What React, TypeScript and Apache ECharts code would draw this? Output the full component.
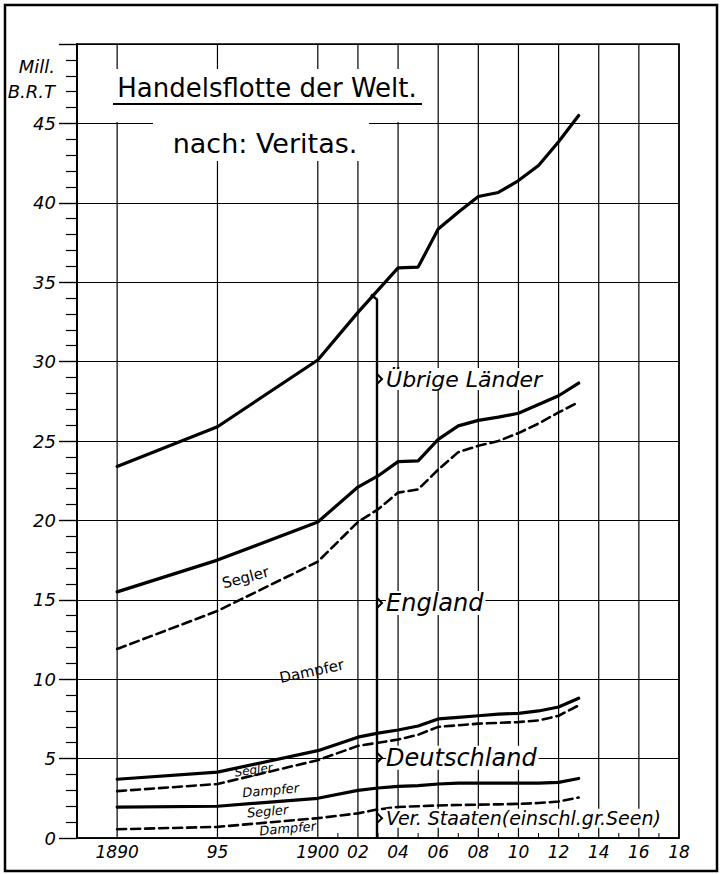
import React, { useEffect, useRef } from "react";
import * as echarts from "echarts";

// ---- data (Mill. B.R.T., cumulative lines as drawn) ----
const years = [1890, 1895, 1900, 1902, 1903, 1904, 1905, 1906, 1907, 1908, 1909, 1910, 1911, 1912, 1913];
const worldTotal = [23.4, 25.9, 30.1, 33.1, 34.5, 35.9, 35.95, 38.35, 39.4, 40.4, 40.65, 41.4, 42.35, 43.85, 45.5];
const englandTotal = [15.5, 17.5, 19.9, 22.1, 22.8, 23.7, 23.75, 25.1, 25.95, 26.3, 26.5, 26.75, 27.3, 27.85, 28.65];
const englandSteam = [11.9, 14.3, 17.4, 19.9, 20.7, 21.75, 21.95, 23.2, 24.3, 24.7, 25.0, 25.5, 26.1, 26.8, 27.45];
const germanyTotal = [3.7, 4.15, 5.5, 6.35, 6.6, 6.8, 7.05, 7.5, 7.6, 7.7, 7.8, 7.85, 8.0, 8.25, 8.8];
const germanySteam = [2.95, 3.4, 4.9, 5.8, 6.0, 6.2, 6.5, 7.0, 7.1, 7.2, 7.25, 7.3, 7.4, 7.7, 8.35];
const usTotal = [1.95, 2.0, 2.5, 3.0, 3.15, 3.25, 3.3, 3.4, 3.45, 3.45, 3.45, 3.45, 3.45, 3.5, 3.75];
const usSteam = [0.55, 0.7, 1.25, 1.55, 1.8, 1.95, 2.0, 2.05, 2.08, 2.1, 2.12, 2.15, 2.2, 2.3, 2.55];

// ---- axis ticks ----
const gridYears = [1890, 1895, 1900, 1902, 1904, 1906, 1908, 1910, 1912, 1914, 1916, 1918];
const gridYearLabels = ["1890", "95", "1900", "02", "04", "06", "08", "10", "12", "14", "16", "18"];
const oddYears = [1901, 1903, 1905, 1907, 1909, 1911, 1913, 1915, 1917];

// ---- brace annotation ----
const braceYear = 1902.95;
const braceTop = 34.1;
const braceNames = ["Übrige Länder", "England", "Deutschland", "Ver. Staaten(einschl.gr.Seen)"];
const braceMids = [28.9, 14.8, 5.05, 1.25];
const braceSizes = [22, 24, 24, 19];

// ---- band labels ----
const bandTexts = ["Segler", "Dampfer", "Segler", "Dampfer", "Segler", "Dampfer"];
const bandAnchors = [
  [1896.4, 16.4], [1899.7, 10.5], [1896.8, 4.28], [1897.65, 3.0], [1897.5, 1.68], [1898.5, 0.6],
];
const bandRotate = [15, 12, 8, 5, 5, 5];
const bandSize = [15, 15, 12, 13, 13, 13];
const bandItalic = [false, false, true, true, true, true];

const FONT = "'DejaVu Sans', sans-serif";

function pairs(vals: number[]) {
  return years.map((y, i) => [y, vals[i]]);
}

export default function App() {
  const ref = useRef<HTMLDivElement>(null);
  useEffect(() => {
    if (!ref.current) return;
    const chart = echarts.init(ref.current, undefined, { renderer: "svg" });
    const lineSeries = (name: string, vals: number[], dashed: boolean) => ({
      name,
      type: "line",
      data: pairs(vals),
      symbol: "none",
      z: 3,
      silent: true,
      lineStyle: {
        color: "#000",
        width: dashed ? 2.6 : 3.2,
        type: dashed ? [9, 5] : "solid",
        cap: "round",
        join: "round",
      },
    });
    const labelMap: Record<number, string> = {};
    gridYears.forEach((y, i) => (labelMap[y] = gridYearLabels[i]));

    const option: any = {
      animation: false,
      backgroundColor: "#fff",
      grid: {
        left: 77,
        right: 45,
        top: 44,
        bottom: 36,
        show: true,
        borderColor: "#000",
        borderWidth: 1.6,
      },
      xAxis: {
        type: "value",
        min: 1888,
        max: 1918,
        interval: 1,
        axisLine: { show: true, lineStyle: { color: "#000", width: 1.6 } },
        axisTick: { show: false },
        splitLine: { show: false },
        axisLabel: {
          margin: 5,
          color: "#000",
          fontFamily: FONT,
          fontStyle: "italic",
          fontSize: 17,
          formatter: (v: number) => labelMap[Math.round(v)] || "",
          showMinLabel: true,
          showMaxLabel: true,
        },
      },
      yAxis: {
        type: "value",
        min: 0,
        max: 50,
        interval: 5,
        axisLine: { show: true, lineStyle: { color: "#000", width: 2 } },
        axisTick: { show: true, length: 18, lineStyle: { color: "#000", width: 1.4 } },
        minorTick: { show: true, splitNumber: 5, length: 11, lineStyle: { color: "#000", width: 1.2 } },
        splitLine: { show: true, lineStyle: { color: "#000", width: 1.1 } },
        axisLabel: {
          margin: 21,
          color: "#000",
          fontFamily: FONT,
          fontStyle: "italic",
          fontSize: 18,
          formatter: (v: number) => (v === 50 ? "" : String(v)),
        },
      },
      series: [
        {
          type: "custom",
          silent: true,
          z: 1,
          data: gridYears.map((y) => [y, 0]),
          renderItem: (_p: any, api: any) => {
            const yr = api.value(0);
            const a = api.coord([yr, 0]);
            const b = api.coord([yr, 50]);
            return {
              type: "line",
              shape: { x1: a[0], y1: a[1], x2: b[0], y2: b[1] },
              style: { stroke: "#000", lineWidth: 1.2 },
            };
          },
        },
        {
          type: "custom",
          silent: true,
          z: 1,
          data: oddYears.map((y) => [y, 0]),
          renderItem: (_p: any, api: any) => {
            const a = api.coord([api.value(0), 0]);
            return {
              type: "line",
              shape: { x1: a[0], y1: a[1], x2: a[0], y2: a[1] - 5 },
              style: { stroke: "#000", lineWidth: 1 },
            };
          },
        },
        lineSeries("Welt", worldTotal, false),
        lineSeries("England Segler", englandTotal, false),
        lineSeries("England Dampfer", englandSteam, true),
        lineSeries("Deutschland Segler", germanyTotal, false),
        lineSeries("Deutschland Dampfer", germanySteam, true),
        lineSeries("Ver. Staaten Segler", usTotal, false),
        lineSeries("Ver. Staaten Dampfer", usSteam, true),
        {
          type: "custom",
          silent: true,
          z: 4,
          data: [[braceYear, braceTop]],
          renderItem: (_p: any, api: any) => {
            const top = api.coord([braceYear, braceTop]);
            const bot = api.coord([braceYear, 0]);
            const x = top[0];
            const children: any[] = [
              {
                type: "polyline",
                shape: { points: [[x - 6, top[1] - 2], [x, top[1] + 3], [x, bot[1]]] },
                style: { stroke: "#000", lineWidth: 2.4, fill: null },
              },
            ];
            braceMids.forEach((m) => {
              const p = api.coord([braceYear, m]);
              children.push({
                type: "polyline",
                shape: { points: [[x, p[1] - 5], [x + 5, p[1]], [x, p[1] + 5]] },
                style: { stroke: "#000", lineWidth: 2, fill: null },
              });
            });
            return { type: "group", children };
          },
        },
        {
          type: "scatter",
          silent: true,
          z: 6,
          symbolSize: 0,
          itemStyle: { opacity: 1 },
          data: braceNames.map((n, i) => ({
            value: [braceYear + 0.45, braceMids[i]],
            label: {
              show: true,
              position: "right",
              distance: 0,
              formatter: n,
              fontSize: braceSizes[i],
              fontStyle: "italic",
              fontFamily: FONT,
              color: "#000",
              opacity: 1,
              backgroundColor: "#fff",
              padding: [0, 2, 0, 0],
            },
          })),
        },
        {
          type: "scatter",
          silent: true,
          z: 6,
          symbolSize: 0,
          itemStyle: { opacity: 1 },
          data: bandTexts.map((t, i) => ({
            value: bandAnchors[i],
            label: {
              show: true,
              position: "inside",
              formatter: t,
              rotate: bandRotate[i],
              fontSize: bandSize[i],
              fontStyle: bandItalic[i] ? "italic" : "normal",
              fontFamily: FONT,
              color: "#000",
              opacity: 1,
              textBorderWidth: 0,
            },
          })),
        },
      ],
      graphic: [
        {
          type: "rect",
          z: 0,
          silent: true,
          shape: { x: 5, y: 5, width: 712, height: 866 },
          style: { fill: "none", stroke: "#000", lineWidth: 2.5 },
        },
        {
          type: "rect",
          z: 100,
          silent: true,
          shape: { x: 112, y: 69, width: 292, height: 53 },
          style: { fill: "#fff" },
        },
        {
          type: "rect",
          z: 100,
          silent: true,
          shape: { x: 153, y: 121, width: 216, height: 40 },
          style: { fill: "#fff" },
        },
        {
          type: "text",
          z: 101,
          x: 267,
          y: 88,
          style: {
            text: "Handelsflotte der Welt.",
            fontFamily: FONT,
            fontSize: 26,
            fill: "#000",
            align: "center",
            verticalAlign: "middle",
          },
        },
        {
          type: "line",
          z: 101,
          shape: { x1: 113, y1: 104, x2: 422, y2: 104 },
          style: { stroke: "#000", lineWidth: 2 },
        },
        {
          type: "text",
          z: 101,
          x: 265,
          y: 143,
          style: {
            text: "nach: Veritas.",
            fontFamily: FONT,
            fontSize: 27,
            fill: "#000",
            align: "center",
            verticalAlign: "middle",
          },
        },
        {
          type: "text",
          z: 101,
          x: 55,
          y: 66,
          style: {
            text: "Mill.",
            fontFamily: FONT,
            fontStyle: "italic",
            fontSize: 18,
            fill: "#000",
            align: "right",
            verticalAlign: "middle",
          },
        },
        {
          type: "text",
          z: 101,
          x: 55,
          y: 91,
          style: {
            text: "B.R.T",
            fontFamily: FONT,
            fontStyle: "italic",
            fontSize: 18,
            fill: "#000",
            align: "right",
            verticalAlign: "middle",
          },
        },
      ],
    };
    chart.setOption(option);
    return () => chart.dispose();
  }, []);
  return (
    <div
      ref={ref}
      style={{ position: "absolute", left: 0, top: 0, width: 724, height: 874, background: "#fff" }}
    />
  );
}
